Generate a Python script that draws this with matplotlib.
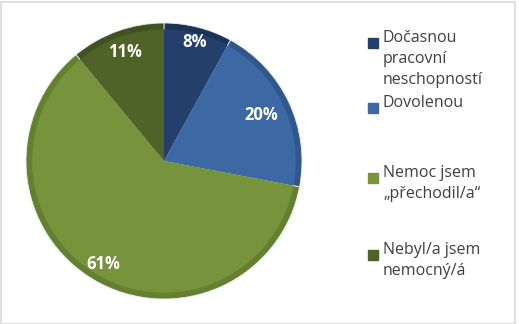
import matplotlib.pyplot as plt
from matplotlib.patches import Rectangle

labels = ["Dočasnou\npracovní\nneschopností", "Dovolenou",
          "Nemoc jsem\n„přechodil/a“", "Nebyl/a jsem\nnemocný/á"]
shares = [8, 20, 61, 11]
colors = ["#243F6B", "#3C68A3", "#77933C", "#4F6228"]
rims = ["#1C3257", "#30578C", "#63802F", "#40521F"]

plt.rcParams['font.family'] = ['Open Sans', 'DejaVu Sans']

fig = plt.figure(figsize=(5.19, 3.24), dpi=100)
W, H = 519, 324

# pie: centre (164,161) px, radius 138 px
cx, cy, r = 164, 161, 138
half = 150
ax = fig.add_axes([(cx - half) / W, (H - cy - half) / H, 2 * half / W, 2 * half / H])
ax.axis('off')

ax.pie(shares, colors=rims, startangle=90, counterclock=False, radius=1.0,
       wedgeprops=dict(edgecolor='#E8EDF3', linewidth=0.6))
wedges, texts = ax.pie(shares, colors=colors, startangle=90, counterclock=False,
                       radius=0.955, labels=[f"{s}%" for s in shares],
                       labeldistance=1.0,
                       wedgeprops=dict(edgecolor='none', linewidth=0))
label_dist = [0.89, 0.78, 0.87, 0.84]
for t, d in zip(texts, label_dist):
    x, y = t.get_position()
    k = d / 0.955
    t.set_position((x * k, y * k))
    t.set_color('white')
    t.set_fontweight('bold')
    t.set_fontsize(12)
    t.set_ha('center')
    t.set_va('center')

ax.set_xlim(-half / r, half / r)
ax.set_ylim(-half / r, half / r)
ax.set_aspect('equal')

# legend drawn by hand to keep Excel-like spacing
leg_y = [43, 108, 178, 255]
for lab, col, y in zip(labels, colors, leg_y):
    fig.add_artist(Rectangle((368 / W, (H - y - 5) / H), 10 / W, 10 / H,
                             transform=fig.transFigure, color=col))
    fig.text(383 / W, (H - y + 13) / H, lab, fontsize=11.5, color='#404040',
             va='top', ha='left', linespacing=1.42)

# chart frame
fig.add_artist(Rectangle((0.5 / W, 0.5 / H), (W - 5) / W, (H - 2) / H,
                         transform=fig.transFigure, fill=False,
                         edgecolor='#D9D9D9', linewidth=1.2))

fig.savefig("out.png", dpi=100)
